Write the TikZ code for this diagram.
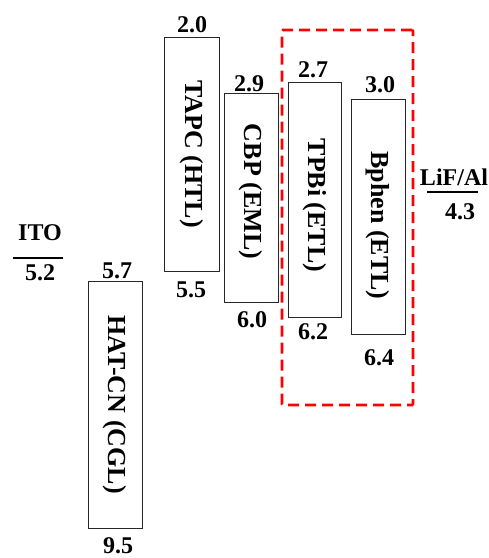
\documentclass[tikz,border=0pt]{standalone}
\usepackage{fontspec}
\setmainfont{Liberation Serif}
\begin{document}
\begin{tikzpicture}[x=1pt,y=-1pt,
  layer/.style={draw=black!85, line width=0.9pt, rotate=-90, inner sep=0pt, font=\fontsize{26}{26}\selectfont\bfseries},
  num/.style={inner sep=0pt, font=\fontsize{24}{24}\selectfont\bfseries},
  lvl/.style={line width=1.6pt},
  group/.style={draw=red, line width=2.6pt, dash pattern=on 11pt off 6pt, rounded corners=1pt}]
\useasboundingbox (0,0) rectangle (489,558);
% layers (minimum width = vertical extent because of rotation)
\node (tapc)  [layer, minimum width=234pt, minimum height=55pt] at (191.5,154)   {TAPC (HTL)};
\node (cbp)   [layer, minimum width=209pt, minimum height=54pt] at (251,197.5)   {CBP (EML)\hspace*{12pt}};
\node (tpbi)  [layer, minimum width=235pt, minimum height=53pt] at (314.5,199.5) {\hspace*{12pt}TPBi (ETL)};
\node (bphen) [layer, minimum width=235pt, minimum height=54pt] at (378,216.5)   {\hspace*{18pt}Bphen (ETL)};
\node (hatcn) [layer, minimum width=247pt, minimum height=54pt] at (115,404.5)   {HAT-CN (CGL)};
% group
\node (grp) [group, minimum width=131pt, minimum height=375pt, inner sep=0pt] at (347.5,217.5) {};
% energy values
\node (n20) [num] at (192,25)  {2.0};
\node (n55) [num] at (191,290) {5.5};
\node (n29) [num] at (249,84)  {2.9};
\node (n60) [num] at (252,320) {6.0};
\node (n27) [num] at (313,70)  {2.7};
\node (n62) [num] at (313,332) {6.2};
\node (n30) [num] at (380,85)  {3.0};
\node (n64) [num] at (379,358) {6.4};
\node (n57) [num] at (117,271) {5.7};
\node (n95) [num] at (118,546) {9.5};
% electrodes
\node (ito) [num] at (40,233) {ITO};
\coordinate (itoL) at (13,258);
\coordinate (itoR) at (63,258);
\draw[lvl] (itoL) -- (itoR);
\node (n52) [num] at (40,273) {5.2};
\node (lif) [num] at (454,177) {LiF/Al};
\coordinate (lifL) at (427,192);
\coordinate (lifR) at (478,192);
\draw[lvl] (lifL) -- (lifR);
\node (n43) [num] at (460,212) {4.3};
\end{tikzpicture}
\end{document}
